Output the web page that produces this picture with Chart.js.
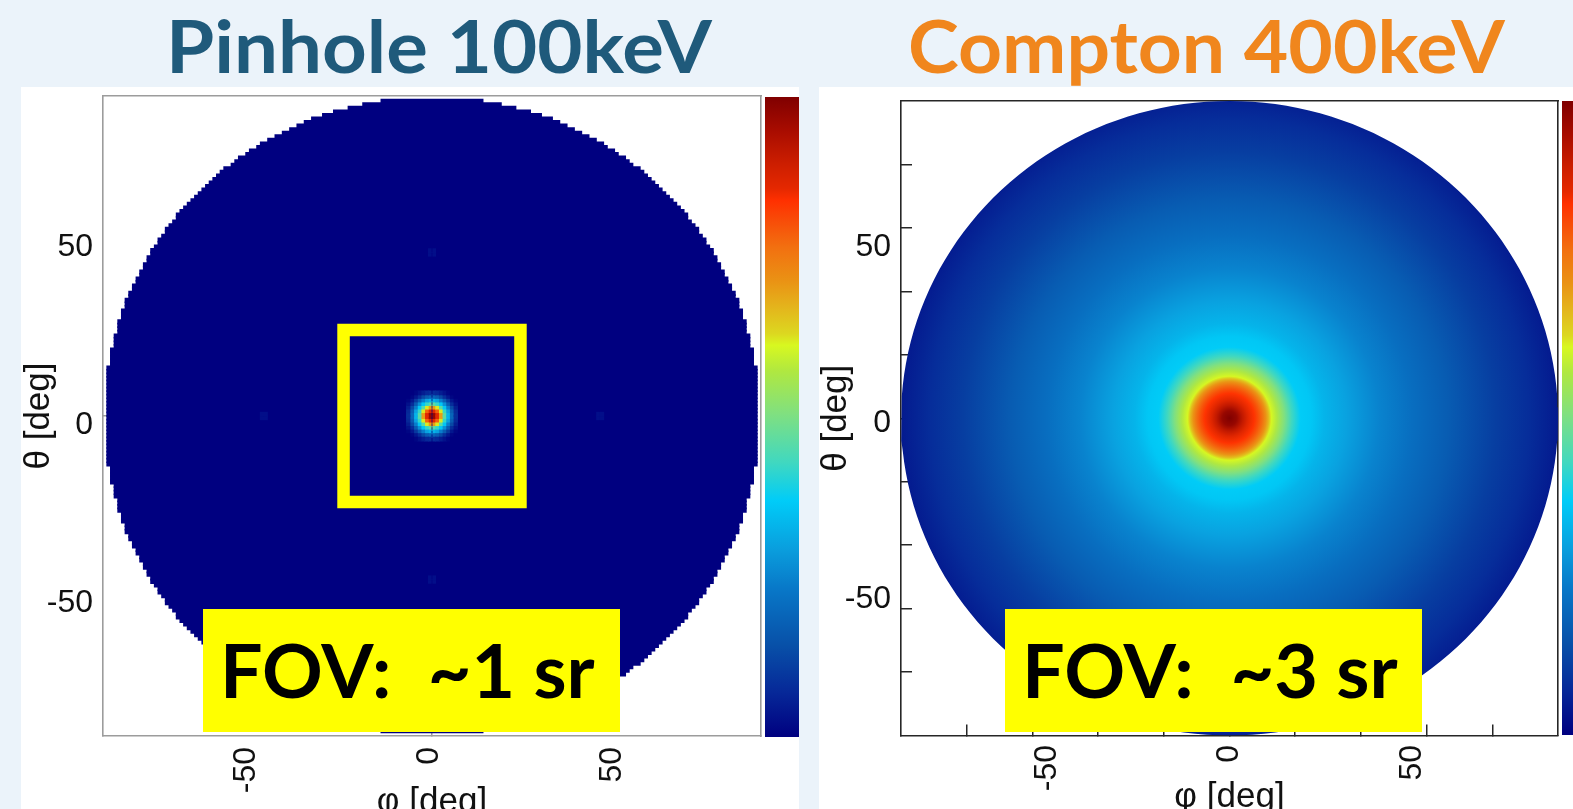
<!DOCTYPE html>
<html>
<head>
<meta charset="utf-8">
<script src="https://cdn.jsdelivr.net/npm/chart.js@4.4.1/dist/chart.umd.min.js"></script>
<style>
html,body{margin:0;padding:0;width:1573px;height:809px;overflow:hidden;background:#EBF3FA;}
.abs{position:absolute;}
.panel{background:#ffffff;}
.txt{position:absolute;white-space:pre;line-height:1;transform-origin:0 0;font-family:Lato,"Open Sans",sans-serif;font-weight:700;}
.fov{position:absolute;background:#FFFF00;}
</style>
</head>
<body>
<div class="abs panel" style="left:21px;top:87px;width:778px;height:722px"></div>
<div class="abs panel" style="left:819px;top:87px;width:754px;height:722px"></div>

<canvas id="chartPinhole" class="abs" width="777" height="760" style="left:22px;top:88px"></canvas>
<canvas id="chartCompton" class="abs" width="754" height="760" style="left:819px;top:87px"></canvas>
<canvas id="cbPinhole" class="abs" width="34" height="640" style="left:765px;top:96.5px"></canvas>
<canvas id="cbCompton" class="abs" width="34" height="634" style="left:1562px;top:101px"></canvas>

<div class="fov" style="left:203px;top:608.5px;width:417px;height:123px"></div>
<div class="fov" style="left:1004.5px;top:608.5px;width:417.5px;height:123px"></div>

<div id="t1" class="txt" style="color:#1F5A7B">Pinhole 100keV</div>
<div id="t2" class="txt" style="color:#F0861D">Compton 400keV</div>
<div id="f1" class="txt" style="color:#000">FOV:  ~1 sr</div>
<div id="f2" class="txt" style="color:#000">FOV:  ~3 sr</div>

<script>
// ---------------- data ----------------
const axisRange = [-90, 90];                 // both panels, deg
const phiTickLabels = [-50, 0, 50];
const thetaTickLabels = [-50, 0, 50];
const pinholeTickMarks = [0];
const comptonTickMarks = [-72, -54, -36, -18, 0, 18, 36, 54, 72];

// Pinhole 100keV: half-width (deg) of the filled disk in 1-deg rows [k,k+1], k = 0..88 (mirrored below 0)
const pinholeRowHalfWidth = [
  89,89,89,89,89,89,89,89,89,89,
  89,89,89,89,88,88,88,88,88,87,
  87,87,87,86,86,86,86,85,85,85,
  84,84,84,83,83,82,82,81,81,80,
  80,79,79,78,78,77,77,76,75,75,
  74,73,73,72,71,70,70,69,68,67,
  66,65,64,63,62,61,60,59,58,57,
  55,54,53,51,50,48,47,45,43,41,
  39,37,35,33,30,27,23,19,14
];
const pinholeBackground = 0.0;
// central spot: colour-scale value of 1-deg cells, one quadrant (offsets 0.5 .. 6.5 deg)
const pinholeSpotQuadrant = [
  [0.97,0.86,0.70,0.46,0.33,0.19,0.08],
  [0.86,0.78,0.62,0.42,0.30,0.17,0.07],
  [0.70,0.62,0.46,0.36,0.24,0.13,0.05],
  [0.46,0.42,0.36,0.27,0.17,0.08,0.03],
  [0.33,0.30,0.24,0.17,0.10,0.04,0.01],
  [0.19,0.17,0.13,0.08,0.04,0.01,0.00],
  [0.08,0.07,0.05,0.03,0.01,0.00,0.00]
];
const pinholeGhostSpots = [[-46, 0], [46, 0], [0, 46], [0, -46]];
const pinholeGhostValue = 0.025;
const pinholeFovBox = [-24.2, 24.2];

// Compton 400keV: radial profile (deg -> colour-scale value)
const comptonRadius = [0, 2, 3.6, 5, 6.8, 8, 9, 10, 10.8, 11.5, 13, 15, 17, 19.5, 22.4, 26, 32, 41, 50, 60, 73, 82, 90];
const comptonValue  = [1.0, 0.97, 0.91, 0.865, 0.835, 0.80, 0.765, 0.71, 0.66, 0.61, 0.57, 0.505, 0.43, 0.37, 0.36, 0.33, 0.30, 0.25, 0.21, 0.17, 0.11, 0.08, 0.045];
const comptonDiskRadius = 90;

const colorbarRange = [0, 7];
const colorbarTicks = [1, 2, 3, 4, 5, 6];

// ---------------- colour scale ----------------
const JET = [
  [0.000,'#000080'],[0.070,'#062898'],[0.143,'#0850A8'],[0.232,'#0878C8'],[0.290,'#0A9CDC'],
  [0.369,'#00CCF8'],[0.429,'#40D8C0'],[0.505,'#80E080'],[0.572,'#B0E840'],[0.612,'#D8F820'],
  [0.630,'#DCD820'],[0.672,'#E4B41C'],[0.713,'#EA9214'],[0.765,'#F27010'],[0.807,'#F84C08'],
  [0.838,'#FF3000'],[0.857,'#E52800'],[0.896,'#CC1E00'],[0.948,'#A80C00'],[1.000,'#800000']
];
function hexRgb(h){return [parseInt(h.slice(1,3),16),parseInt(h.slice(3,5),16),parseInt(h.slice(5,7),16)];}
function colorAt(t){
  t = Math.max(0, Math.min(1, t));
  for (let i = 1; i < JET.length; i++) {
    if (t <= JET[i][0]) {
      const t0 = JET[i-1][0], t1 = JET[i][0];
      const a = hexRgb(JET[i-1][1]), b = hexRgb(JET[i][1]);
      const f = (t - t0) / (t1 - t0);
      return 'rgb(' + a.map((v,k)=>Math.round(v + (b[k]-v)*f)).join(',') + ')';
    }
  }
  return JET[JET.length-1][1];
}

// ---------------- shared axis builder ----------------
const FONT = '"Liberation Sans", Arial, Helvetica, sans-serif';
function noPad(s) { s.paddingTop = 0; s.paddingBottom = 0; s.paddingLeft = 0; s.paddingRight = 0; }
function buildScales(c) {
  const xs = [...new Set([...c.marks, ...phiTickLabels])].sort((a,b)=>a-b);
  const ys = [...new Set([...c.marks, ...thetaTickLabels])].sort((a,b)=>a-b);
  const tickFont = {family: FONT, size: 32};
  const titleFont = {family: FONT, size: 35, lineHeight: 1};
  const gridCol = ctx => (ctx.tick && c.marks.includes(ctx.tick.value)) ? c.frameColor : 'rgba(0,0,0,0)';
  return {
    x: {
      type: 'linear', min: axisRange[0], max: axisRange[1], offset: false, position: 'bottom',
      afterBuildTicks: s => { s.ticks = xs.map(v => ({value: v})); },
      afterFit: s => { s.height = c.xHeight; noPad(s); },
      ticks: {autoSkip: false, minRotation: 90, maxRotation: 90, padding: c.xPad, labelOffset: c.xLabelOffset,
              font: tickFont, color: '#111', callback: v => phiTickLabels.includes(v) ? String(v) : ''},
      grid: {display: true, drawOnChartArea: false, drawTicks: true, tickLength: -c.tickLen, lineWidth: c.tickWidth, color: gridCol, offset: false},
      border: {display: true, color: c.frameColor, width: c.frameWidth},
      title: {display: true, text: 'φ [deg]', font: titleFont, color: '#111', padding: {top: 0, bottom: c.xTitlePad}}
    },
    y: {
      type: 'linear', min: axisRange[0], max: axisRange[1], offset: false, position: 'left',
      afterBuildTicks: s => { s.ticks = ys.map(v => ({value: v})); },
      afterFit: s => { s.width = c.yWidth; noPad(s); },
      ticks: {autoSkip: false, padding: c.yPad, labelOffset: c.yLabelOffset,
              font: tickFont, color: '#111', callback: v => thetaTickLabels.includes(v) ? String(v) : ''},
      grid: {display: true, drawOnChartArea: false, drawTicks: true, tickLength: -c.tickLen, lineWidth: c.tickWidth, color: gridCol, offset: false},
      border: {display: true, color: c.frameColor, width: c.frameWidth},
      title: {display: true, text: 'θ [deg]', font: titleFont, color: '#111', padding: {top: 0, bottom: 0}}
    },
    xTop: {type: 'linear', position: 'top', min: axisRange[0], max: axisRange[1], afterFit: s => { s.height = 0; noPad(s); },
           ticks: {display: false}, grid: {display: false}, border: {display: true, color: c.frameColor, width: c.frameWidth}},
    yRight: {type: 'linear', position: 'right', min: axisRange[0], max: axisRange[1], afterFit: s => { s.width = 0; noPad(s); },
           ticks: {display: false}, grid: {display: false}, border: {display: true, color: c.frameColor, width: c.frameWidth}}
  };
}
const baseOptions = (padding, scales) => ({
  responsive: false, animation: false, events: [],
  layout: {padding},
  plugins: {legend: {display: false}, tooltip: {enabled: false}, title: {display: false}},
  scales
});

// ---------------- Pinhole chart ----------------
const diskRows = [];
pinholeRowHalfWidth.forEach((hw, k) => {
  diskRows.push({y: k + 0.5, x: [-hw, hw]});
  diskRows.push({y: -(k + 0.5), x: [-hw, hw]});
});
const spotCells = [], spotColors = [];
pinholeSpotQuadrant.forEach((row, i) => row.forEach((v, j) => {
  [-1, 1].forEach(sy => [-1, 1].forEach(sx => {
    const cx = sx * (j + 0.5), cy = sy * (i + 0.5);
    spotCells.push({y: cy, x: [cx - 0.5, cx + 0.5]});
    spotColors.push(colorAt(v));
  }));
}));
pinholeGhostSpots.forEach(([gx, gy]) => {
  [-0.5, 0.5].forEach(dy => [-0.5, 0.5].forEach(dx => {
    const cx = gx + dx, cy = gy + dy;
    spotCells.push({y: cy, x: [cx - 0.5, cx + 0.5]});
    spotColors.push(colorAt(pinholeGhostValue));
  }));
});
const [b0, b1] = pinholeFovBox;
const boxPath = [{x:b0,y:b0},{x:b1,y:b0},{x:b1,y:b1},{x:b0,y:b1},{x:b0,y:b0},{x:b1,y:b0}];

new Chart(document.getElementById('chartPinhole'), {
  type: 'scatter',
  data: {datasets: [
    {type: 'bar', indexAxis: 'y', data: diskRows, backgroundColor: colorAt(pinholeBackground), borderWidth: 0,
     grouped: false, barPercentage: 1.3, categoryPercentage: 1, inflateAmount: 0.3, order: 5},
    {type: 'bar', indexAxis: 'y', data: spotCells, backgroundColor: spotColors, borderWidth: 0,
     grouped: false, barPercentage: 1.15, categoryPercentage: 1, inflateAmount: 0.35, order: 4},
    {type: 'line', data: boxPath, borderColor: '#FFFF00', borderWidth: 12.5, pointRadius: 0, fill: false,
     tension: 0, borderJoinStyle: 'miter', borderCapStyle: 'butt', order: 1}
  ]},
  options: baseOptions({left: 0, right: 38, top: 8, bottom: 0}, buildScales({
    marks: pinholeTickMarks, frameColor: '#9c9c9c', frameWidth: 1.6, tickLen: 4, tickWidth: 1.5,
    xHeight: 112, yWidth: 81, xPad: 15, yPad: 14, xLabelOffset: -3, yLabelOffset: 9, xTitlePad: 28.5
  }))
});

// ---------------- Compton chart ----------------
const comptonOutline = [];
for (let a = 0; a <= 360; a += 2) {
  comptonOutline.push({x: comptonDiskRadius * Math.cos(a * Math.PI / 180), y: comptonDiskRadius * Math.sin(a * Math.PI / 180)});
}
new Chart(document.getElementById('chartCompton'), {
  type: 'scatter',
  data: {datasets: [
    {type: 'line', data: comptonOutline, fill: 'shape', borderWidth: 0, borderColor: 'rgba(0,0,0,0)', pointRadius: 0, tension: 0,
     backgroundColor: ctx => {
       const ch = ctx.chart;
       if (!ch.chartArea) return colorAt(0.2);
       const xs = ch.scales.x, ys = ch.scales.y;
       const cx = xs.getPixelForValue(0), cy = ys.getPixelForValue(0);
       const R = xs.getPixelForValue(comptonDiskRadius) - cx;
       const g = ch.ctx.createRadialGradient(cx, cy, 0, cx, cy, R);
       comptonRadius.forEach((r, i) => g.addColorStop(Math.min(1, r / comptonDiskRadius), colorAt(comptonValue[i])));
       return g;
     }, order: 2}
  ]},
  options: baseOptions({left: 0, right: 15, top: 14, bottom: 0}, buildScales({
    marks: comptonTickMarks, frameColor: '#262626', frameWidth: 1.6, tickLen: 11, tickWidth: 1.5,
    xHeight: 111.5, yWidth: 82, xPad: 20.5, yPad: 21, xLabelOffset: 0, yLabelOffset: 5, xTitlePad: 32.5
  }))
});

// ---------------- colour bars ----------------
function makeColorbar(id) {
  const [c0, c1] = colorbarRange;
  new Chart(document.getElementById(id), {
    type: 'scatter',
    data: {datasets: [
      {type: 'line', data: [{x:0,y:c0},{x:1,y:c0},{x:1,y:c1},{x:0,y:c1}], fill: 'shape', borderWidth: 0,
       borderColor: 'rgba(0,0,0,0)', pointRadius: 0, tension: 0, clip: false,
       backgroundColor: ctx => {
         const ch = ctx.chart, a = ch.chartArea;
         if (!a) return colorAt(0.5);
         const g = ch.ctx.createLinearGradient(0, a.bottom, 0, a.top);
         JET.forEach(([t, col]) => g.addColorStop(t, col));
         return g;
       }}
    ]},
    options: {
      responsive: false, animation: false, events: [], layout: {padding: 0},
      plugins: {legend: {display: false}, tooltip: {enabled: false}},
      scales: {
        x: {type: 'linear', min: 0, max: 1, display: false, offset: false},
        y: {type: 'linear', min: c0, max: c1, display: false},
        yTicks: {type: 'linear', position: 'right', min: c0, max: c1, display: true,
          afterBuildTicks: s => { s.ticks = colorbarTicks.map(v => ({value: v})); },
          afterFit: s => { s.width = 0; noPad(s); },
          ticks: {display: false},
          grid: {display: true, drawOnChartArea: false, drawTicks: true, tickLength: -17, lineWidth: 2, color: 'rgba(0,0,0,0.42)'},
          border: {display: false}}
      }
    }
  });
}
makeColorbar('cbPinhole');
makeColorbar('cbCompton');

// ---------------- text placement ----------------
const mctx = document.createElement('canvas').getContext('2d');
function placeText(id, inkLeft, inkRight, baseline, capHeight) {
  const el = document.getElementById(id);
  const text = el.textContent;
  const fam = 'Lato, "Open Sans", sans-serif';
  mctx.font = '700 100px ' + fam;
  const capRatio = mctx.measureText('H').actualBoundingBoxAscent / 100;
  const size = capHeight / capRatio;
  el.style.fontSize = size + 'px';
  mctx.font = '700 ' + size + 'px ' + fam;
  const m = mctx.measureText(text);
  const inkW = m.actualBoundingBoxLeft + m.actualBoundingBoxRight;
  const s = (inkRight - inkLeft) / inkW;
  el.style.transform = 'scaleX(' + s + ')';
  el.style.left = (inkLeft + s * m.actualBoundingBoxLeft) + 'px';
  const fa = m.fontBoundingBoxAscent, fd = m.fontBoundingBoxDescent;
  const baseFromTop = (size - (fa + fd)) / 2 + fa;
  el.style.top = (baseline - baseFromTop) + 'px';
}
placeText('t1', 171, 713, 74, 53.3);
placeText('t2', 910, 1506, 74, 53.3);
placeText('f1', 225, 595, 698, 54);
placeText('f2', 1027, 1398, 698, 54);
</script>
</body>
</html>
